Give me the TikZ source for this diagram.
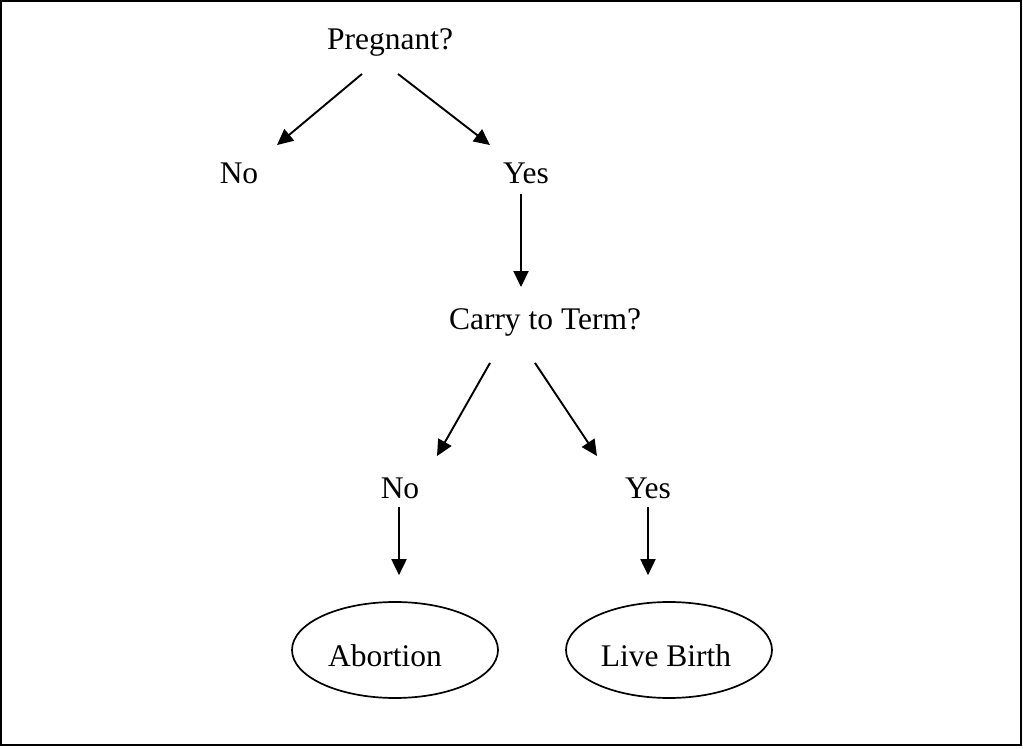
\documentclass[tikz,border=0pt]{standalone}
\usepackage{fontspec}
\setmainfont{Liberation Serif}
\usetikzlibrary{arrows.meta,shapes.geometric}

\begin{document}
\begin{tikzpicture}[x=1pt,y=1pt,line width=1.9pt,
		>={Triangle[length=16pt,width=15pt]},
		font=\fontsize{31.5}{38}\selectfont]
		\tikzstyle{every node}=[inner sep=0pt,text height=21pt,text depth=7pt]
		\tikzstyle{outcome}=[draw,ellipse,minimum width=206pt,minimum height=96pt,
			text height=39pt,line width=1.7pt]
		\useasboundingbox (0,0) rectangle (1023,748);
		\draw[line width=2.5pt] (1.2,2.8) rectangle (1021,746.8);
		\node[anchor=base] (preg)  at (390,698) {Pregnant?};
		\node[anchor=base] (no1)   at (239,564) {No};
		\node[anchor=base] (yes1)  at (526,564) {Yes};
		\node[anchor=base] (carry) at (545,418) {Carry to Term?};
		\node[anchor=base] (no2)   at (400,250) {No};
		\node[anchor=base] (yes2)  at (648,250) {Yes};
		\node[outcome] (abort) at (395,98) {Abortion\hspace*{20pt}};
		\node[outcome] (live)  at (669,98) {Live Birth\hspace*{6pt}};
		\draw[->] ([shift={(-28,-16)}]preg.south)  -- ([shift={(38,17)}]no1.north);
		\draw[->] ([shift={(8,-16)}]preg.south)    -- ([shift={(-36,17)}]yes1.north);
		\draw[->] ([shift={(-5,-2)}]yes1.south)    -- ([shift={(-24,21)}]carry.north);
		\draw[->] ([shift={(-55,-25)}]carry.south) -- ([shift={(37,20)}]no2.north);
		\draw[->] ([shift={(-10,-25)}]carry.south) -- ([shift={(-51,20)}]yes2.north);
		\draw[->] ([shift={(-1,-1)}]no2.south)     -- ([shift={(4,26)}]abort.north);
		\draw[->] ([shift={(0,-1)}]yes2.south)     -- ([shift={(-21,26)}]live.north);
	\end{tikzpicture}
\end{document}
